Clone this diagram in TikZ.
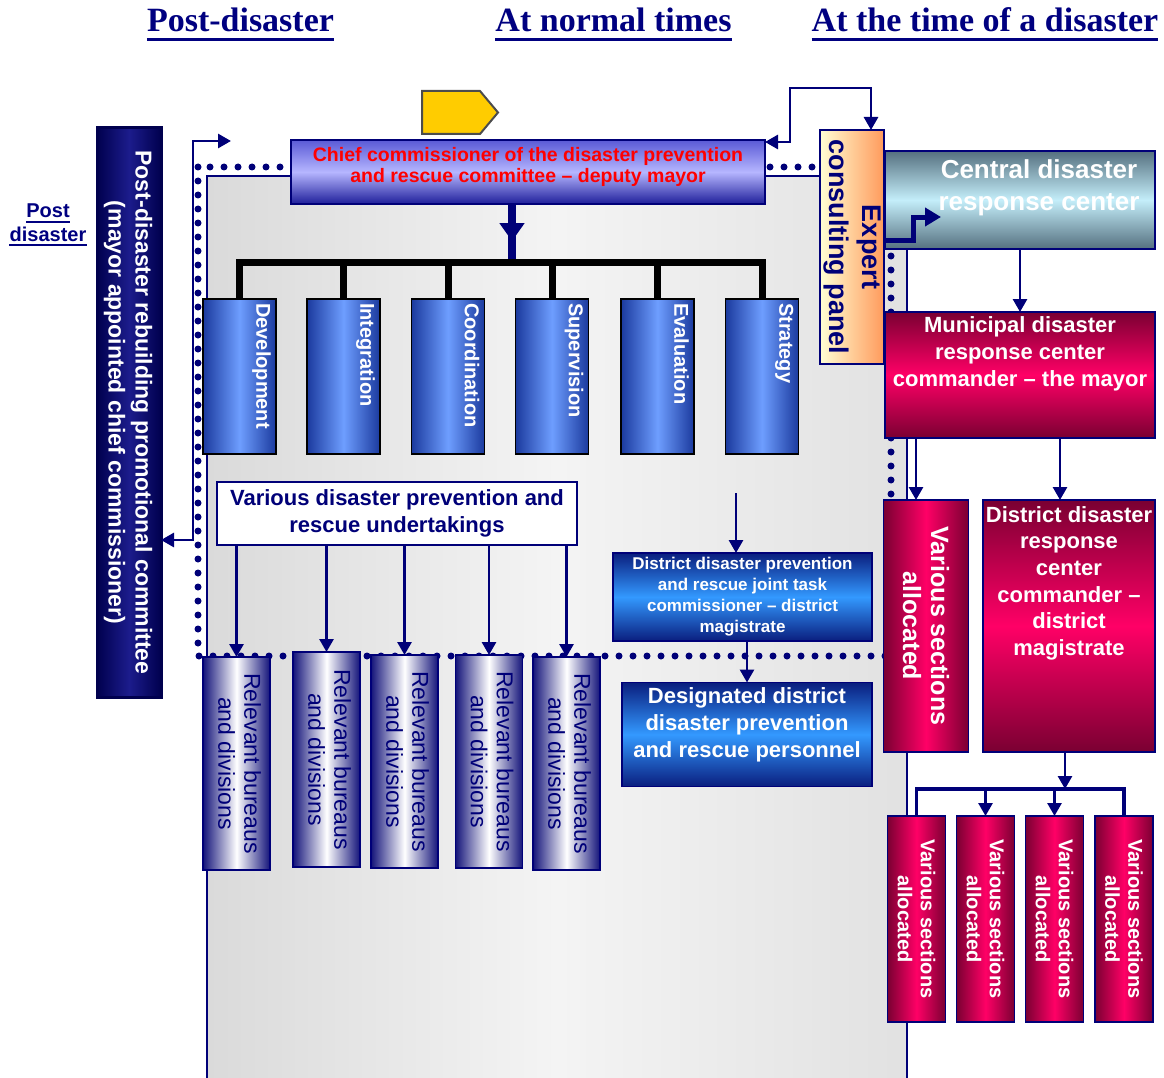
\documentclass[tikz,border=0pt]{standalone}
\usepackage{fontspec}
\setmainfont{Liberation Sans}
\newfontfamily\titlefont{Liberation Serif}
\usetikzlibrary{arrows.meta,decorations.markings,calc}
\pgfdeclarelayer{bg}
\pgfdeclarelayer{dots}
\pgfsetlayers{bg,dots,main}
\newcommand{\setfs}[2]{\fontsize{#1}{#2}\selectfont}
\definecolor{navy}{HTML}{000078}
\definecolor{titleblue}{HTML}{000080}
\definecolor{maroon}{HTML}{7A0032}
\definecolor{hotpink}{HTML}{FF0066}
\definecolor{bluedark}{HTML}{1B3A9E}
\definecolor{bluelight}{HTML}{6E9EFF}
\definecolor{azure}{HTML}{3399FF}
\definecolor{deepblue}{HTML}{0A1E7E}
\definecolor{slate}{HTML}{55707F}
\definecolor{palecyan}{HTML}{C4EEFA}
\definecolor{paleyellow}{HTML}{FFFFD4}
\definecolor{salmon}{HTML}{FF9A5C}
\definecolor{lavtop}{HTML}{5A5AD6}
\definecolor{lavmid}{HTML}{B6B6FF}
\definecolor{lavbot}{HTML}{1E1E9A}
\definecolor{gold}{HTML}{FFCC00}
\definecolor{chiefred}{HTML}{FF0000}
\definecolor{panelgray}{HTML}{DADADA}
\definecolor{panellight}{HTML}{F4F4F4}
\definecolor{postdark}{HTML}{00004E}
\definecolor{postmid}{HTML}{1C1C8C}
\definecolor{relnavy}{HTML}{14147A}
\tikzset{
  boxbase/.style={inner sep=0pt, outer sep=0pt, line width=1.6pt},
  bluecol/.style={boxbase, draw=black, left color=bluedark, right color=bluedark, middle color=bluelight, minimum width=73pt, minimum height=155pt},
  relcol/.style={boxbase, draw=navy, left color=relnavy, right color=relnavy, middle color=white, minimum width=67pt},
  redcolh/.style={boxbase, draw=navy, left color=maroon, right color=maroon, middle color=hotpink},
  redcolv/.style={boxbase, draw=navy, top color=maroon, bottom color=maroon, middle color=hotpink},
  azurev/.style={boxbase, draw=navy, top color=deepblue, bottom color=deepblue, middle color=azure},
  vtext/.style={rotate=-90, inner sep=0pt, align=center},
  htext/.style={inner sep=0pt, align=center},
  tip/.style={-{Triangle[width=14pt,length=13pt]}},
  conn/.style={draw=navy, line width=2.8pt, tip},
  plain/.style={draw=navy, line width=2.8pt},
  dotline/.style={draw=navy, line width=7pt, line cap=round, dash pattern=on 0pt off 14pt},
  barline/.style={draw=black, line width=7pt},
  titlestyle/.style={anchor=base, inner sep=0pt, text=titleblue, font=\titlefont\bfseries\setfs{34}{40}}
}
\begin{document}
\begin{tikzpicture}[x=1pt, y=-1pt]
\useasboundingbox (0,0) rectangle (1164,1078);

% background panel
\begin{pgfonlayer}{bg}
\fill[left color=panelgray, right color=panelgray!80!white, middle color=panellight] (207,176) rectangle (907,1078);
\draw[navy, line width=1.2pt] (207,1080) -- (207,176) -- (907,176) -- (907,1080);
\end{pgfonlayer}
\begin{pgfonlayer}{dots}
\draw[dotline] (198,167) rectangle (891,656);
\end{pgfonlayer}

% titles
\node[titlestyle] (t1) at (240.5,32) {Post-disaster};
\node[titlestyle] (t2) at (613.5,32) {At normal times};
\node[titlestyle] (t3) at (985,32) {At the time of a disaster};
\foreach \t in {t1,t2,t3}
  \draw[titleblue, line width=3pt] ([yshift=-8pt]\t.base west) -- ([yshift=-8pt]\t.base east);

% post disaster label
\node[anchor=base, inner sep=0pt, text=titleblue, font=\bfseries\setfs{20}{24}] (pd1) at (48,218) {Post};
\node[anchor=base, inner sep=0pt, text=titleblue, font=\bfseries\setfs{20}{24}] (pd2) at (48,241) {disaster};
\foreach \t in {pd1,pd2}
  \draw[titleblue, line width=2pt] ([yshift=-3.5pt]\t.base west) -- ([yshift=-3.5pt]\t.base east);

% post-disaster committee
\node[boxbase, draw=postdark, line width=3pt, left color=postdark, right color=postdark, middle color=postmid, minimum width=64pt, minimum height=569pt] (post) at (129,412.5) {};
\node[vtext, text=white, font=\bfseries\setfs{23}{27}] (posttxt) at ([xshift=-1pt]post.center) {Post-disaster rebuilding promotional committee\\(mayor appointed chief commissioner)};

% yellow tag
\draw[fill=gold, draw=black!70, line width=2pt] (422,91) -- (480,91) -- (498,112.5) -- (480,134) -- (422,134) -- cycle;

% chief commissioner
\node[boxbase, draw=navy, top color=lavtop, bottom color=lavbot, middle color=lavmid, minimum width=474pt, minimum height=64pt] (chief) at (528,172) {};
\node[htext, text=chiefred, font=\bfseries\setfs{19.5}{20.5}] (chieftxt) at (528,167) {Chief commissioner of the disaster prevention\\and rescue committee -- deputy mayor};

% expert panel
\node[boxbase, draw=navy, left color=paleyellow, right color=salmon, minimum width=64pt, minimum height=234pt] (expert) at (852,247) {};
\node[vtext, text=navy, font=\bfseries\setfs{27}{33}] (experttxt) at (expert.center) {Expert\\consulting panel};

% central
\node[boxbase, draw=navy, top color=slate, bottom color=slate, middle color=palecyan, minimum width=270pt, minimum height=98pt] (central) at (1020,200) {};
\node[htext, text=white, font=\bfseries\setfs{26}{32}] (centraltxt) at (1039,188) {Central disaster\\response center};

% municipal
\node[redcolv, minimum width=270pt, minimum height=126pt] (municipal) at (1020,375) {};
\node[htext, anchor=north, text=white, font=\bfseries\setfs{22}{27}] (municipaltxt) at (1020,316) {Municipal disaster\\response center\\commander -- the mayor};

% various sections allocated (big)
\node[redcolh, minimum width=85pt, minimum height=252pt] (vsa) at (926,626) {};
\node[vtext, text=white, font=\bfseries\setfs{25}{28}] (vsatxt) at (vsa.center) {Various sections\\allocated};

% district disaster response center
\node[redcolv, minimum width=172pt, minimum height=252pt] (ddrc) at (1069,626) {};
\node[htext, anchor=north, text=white, font=\bfseries\setfs{22}{26.7}] (ddrctxt) at (1069,506) {District disaster\\response\\center\\commander --\\district\\magistrate};

% small red boxes
\foreach \n/\x in {1/916.5,2/985.5,3/1054.5,4/1124}{
  \node[redcolh, minimum width=58pt, minimum height=206pt] (s\n) at (\x,919) {};
  \node[vtext, text=white, font=\bfseries\setfs{20}{23}] (st\n) at (s\n.center) {Various sections\\allocated};
}

% six blue function boxes
\foreach \n/\x/\t in {1/239.5/Development,2/343.5/Integration,3/448/Coordination,4/552/Supervision,5/657.5/Evaluation,6/762/Strategy}{
  \node[bluecol] (b\n) at (\x,376.5) {};
  \node[vtext, anchor=north west, text=white, font=\bfseries\setfs{20}{24}] (bt\n) at ([xshift=-5pt,yshift=-4pt]b\n.north east) {\t};
}

% various undertakings
\node[boxbase, draw=navy, fill=white, minimum width=360pt, minimum height=63pt, align=center, text=navy, font=\bfseries\setfs{22}{27}] (various) at (397,513.5) {Various disaster prevention and\\rescue undertakings};

% district joint task
\node[azurev, minimum width=259pt, minimum height=88pt, align=center, text=white, font=\bfseries\setfs{17}{21}] (district) at (742.5,597) {District disaster prevention\\and rescue joint task\\commissioner -- district\\magistrate};

% designated
\node[azurev, minimum width=250pt, minimum height=104pt] (designated) at (747,734.5) {};
\node[htext, text=white, font=\bfseries\setfs{22}{27}] (designatedtxt) at (747,725) {Designated district\\disaster prevention\\and rescue personnel};

% relevant bureaus
\foreach \n/\x/\y/\h in {1/236.5/763.5/213,2/326.5/759.5/215,3/404.5/761.5/213,4/489/761.5/213,5/566.5/763.5/213}{
  \node[relcol, minimum height=\h pt] (r\n) at (\x,\y) {};
  \node[vtext, text=navy, font=\setfs{23}{26}] (rt\n) at ([xshift=3pt]r\n.center) {Relevant bureaus\\and divisions};
}

% ---------- connectors ----------
% left path
\coordinate (lp) at (193,540);
\coordinate (lt) at (193,141);
\coordinate (ltend) at (231,141);
\draw[plain, {Triangle[width=14pt,length=13pt]}-{Triangle[width=14pt,length=13pt]}] (post.east |- lp) -- (lp) -- (lt) -- (ltend);

% chief <-> expert
\coordinate (ce1) at (871,88);
\coordinate (ce2) at (790,88);
\coordinate (ce3) at (790,142);
\draw[plain, {Triangle[width=14pt,length=13pt]}-{Triangle[width=14pt,length=13pt]}] ([xshift=19pt]expert.north) -- (ce1) -- (ce2) -- (ce3) -- (chief.east |- ce3);

% chief -> bar
\coordinate (bar) at (512,262);
\draw[draw=navy, line width=8pt, postaction={decorate}, decoration={markings, mark=at position 0.64 with {\arrow[navy]{Triangle[width=24pt,length=18pt]}}}] (chief.south -| bar) -- (bar);
\draw[barline, line cap=rect] (b1.north |- bar) -- (b6.north |- bar);
\foreach \n in {1,...,6} \draw[barline] (b\n.north |- bar) -- (b\n.north);

% expert -> central
\coordinate (ec1) at (913,240);
\coordinate (ec2) at (913,217);
\coordinate (ecend) at (941,217);
\draw[draw=navy, line width=5pt, -{Triangle[width=18pt,length=16pt]}] ([yshift=7pt]expert.east) -- (ec1) -- (ec2) -- (ecend);

% central -> municipal
\draw[conn] (central.south) -- (municipal.north);
% municipal -> vsa, ddrc
\coordinate (m1) at ([xshift=-10pt]vsa.north);
\draw[conn] (m1 |- municipal.south) -- (m1);
\coordinate (m2) at ([xshift=-9pt]ddrc.north);
\draw[conn] (m2 |- municipal.south) -- (m2);

% ddrc -> small red boxes
\coordinate (rbar) at (1065,789);
\draw[conn] (rbar |- ddrc.south) -- (rbar);
\draw[draw=navy, line width=3.5pt] (s1.north) -- (s1.north |- rbar) -- (s4.north |- rbar) -- (s4.north);
\draw[conn] (s2.north |- rbar) -- (s2.north);
\draw[conn] (s3.north |- rbar) -- (s3.north);

% various -> relevant
\foreach \n in {1,...,5} \draw[conn] (r\n.north |- various.south) -- (r\n.north);

% district arrows
\coordinate (dtop) at (736,493);
\draw[conn] (dtop) -- (dtop |- district.north);
\draw[conn] (district.south -| designated.north) -- (designated.north);
\end{tikzpicture}
\end{document}
